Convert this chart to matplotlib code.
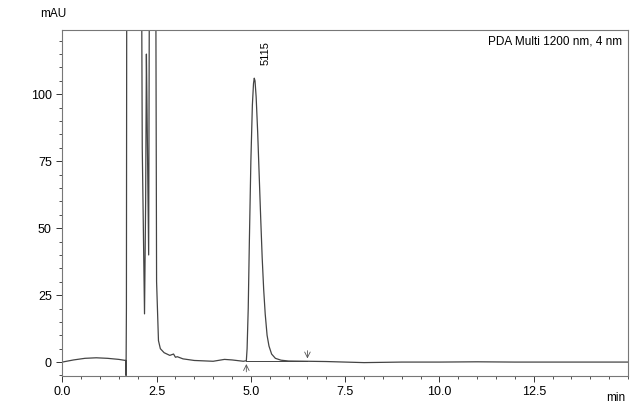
import matplotlib
matplotlib.use("Agg")
import matplotlib.pyplot as plt
from matplotlib.ticker import MultipleLocator

time = [0.0, 0.3, 0.6, 0.9, 1.2, 1.5, 1.68, 1.69, 1.70, 1.72, 1.75,
        2.0, 2.06, 2.12, 2.18, 2.21, 2.23, 2.25, 2.29, 2.31, 2.33, 2.40, 2.45,
        2.50, 2.55, 2.60, 2.70, 2.85, 2.95, 3.0, 3.05, 3.2, 3.5, 4.0, 4.3, 4.5, 4.8,
        4.88, 4.90, 4.93, 4.96, 5.00, 5.04, 5.07, 5.09, 5.11, 5.14, 5.18, 5.22, 5.26,
        5.30, 5.34, 5.38, 5.43, 5.48, 5.55, 5.65, 5.8, 6.0, 6.5, 7.0, 8.0, 9.0,
        10.0, 11.0, 12.0, 13.0, 14.0, 15.0]
signal = [0.0, 0.8, 1.4, 1.6, 1.4, 1.0, 0.6, -5.0, 20.0, 300.0, 300.0,
          300.0, 300.0, 80.0, 18.0, 60.0, 115.0, 90.0, 40.0, 150.0, 300.0, 300.0, 300.0,
          30.0, 8.0, 5.0, 3.5, 2.5, 3.0, 1.8, 2.0, 1.2, 0.6, 0.3, 1.0, 0.8, 0.3,
          0.5, 5.0, 20.0, 45.0, 75.0, 96.0, 104.0, 106.0, 105.0, 99.0, 86.0, 70.0, 54.0,
          39.0, 27.0, 18.0, 10.0, 6.0, 3.0, 1.4, 0.7, 0.4, 0.3, 0.2, -0.2, 0.0,
          0.0, 0.1, 0.0, 0.0, 0.0, 0.0]
peak_time = 5.09
peak_height = 106.0
peak_label = "5115"
int_start, int_end = 4.88, 6.5

fig = plt.figure(figsize=(6.35, 4.09), dpi=100)
ax = fig.add_axes([62.3/635, (409-376)/409, (628-62.3)/635, (376-30)/409])
ax.plot(time, signal, color="#444444", lw=0.9)
ax.plot([int_start, int_end], [0.3, 0.3], color="#444444", lw=0.7)
for t, d in [(int_start, 1), (int_end, -1)]:
    ax.annotate("", xy=(t, 0.3), xytext=(t, 0.3 - 5*d),
                arrowprops=dict(arrowstyle="->", color="#555555", lw=0.6))
ax.text(peak_time + 0.3, peak_height + 5, peak_label, rotation=90, ha="center",
        va="bottom", fontsize=8, family="Liberation Sans")
ax.set_xlim(0, 15)
ax.set_ylim(-5.2, 124)
ax.xaxis.set_minor_locator(MultipleLocator(0.5))
ax.yaxis.set_minor_locator(MultipleLocator(5))
ax.set_xticks([0, 2.5, 5, 7.5, 10, 12.5])
ax.set_xticklabels(["0.0", "2.5", "5.0", "7.5", "10.0", "12.5"])
ax.set_yticks([0, 25, 50, 75, 100])
for lab in ax.get_xticklabels() + ax.get_yticklabels():
    lab.set_family("Liberation Sans"); lab.set_fontsize(9)
ax.tick_params(which="major", length=4, width=0.7, color="#333333")
ax.tick_params(which="minor", length=2.5, width=0.6, color="#333333")
for s in ax.spines.values():
    s.set_color("#777777"); s.set_linewidth(0.8)
ax.text(0.99, 0.985, "PDA Multi 1200 nm, 4 nm", transform=ax.transAxes, ha="right",
        va="top", fontsize=8.5, family="Liberation Sans")
fig.text(40/635, 1 - 14/409, "mAU", fontsize=8.5, family="Liberation Sans", va="center")
fig.text(625/635, 1 - 398/409, "min", fontsize=8.5, family="Liberation Sans", va="center", ha="right")
fig.savefig("out.png", dpi=100, facecolor="white")
